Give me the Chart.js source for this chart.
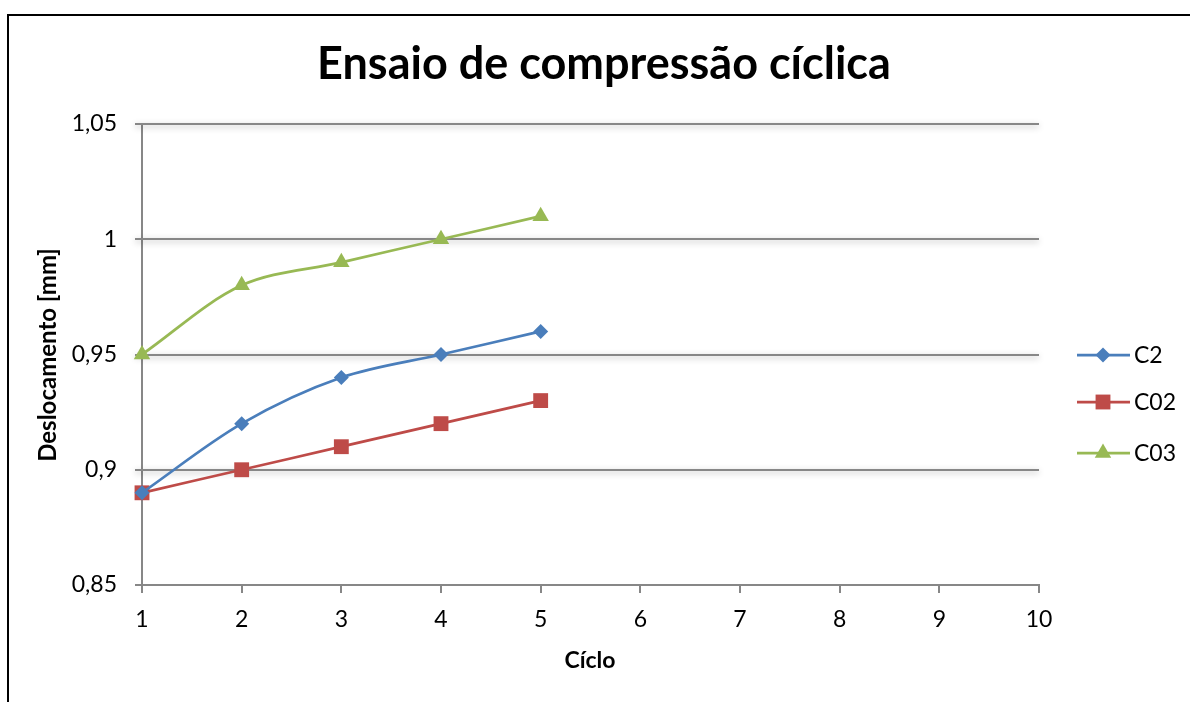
<!DOCTYPE html>
<html lang="pt">
<head>
<meta charset="utf-8">
<title>Ensaio de compressão cíclica</title>
<script src="https://cdn.jsdelivr.net/npm/chart.js@4.4.1/dist/chart.umd.min.js"></script>
<style>
  html, body { margin: 0; padding: 0; background: #fff; }
  #wrap { width: 1190px; height: 702px; }
</style>
</head>
<body>
<div id="wrap"><canvas id="c" width="1190" height="702"></canvas></div>
<script>
// Ciclos (eixo X) e deslocamentos medidos em mm
const cycles = [1, 2, 3, 4, 5];
const c2Values  = [0.89, 0.92, 0.94, 0.95, 0.96];
const c02Values = [0.89, 0.90, 0.91, 0.92, 0.93];
const c03Values = [0.95, 0.98, 0.99, 1.00, 1.01];
const seriesNames = ['C2', 'C02', 'C03'];
const yTickValues = [0.85, 0.9, 0.95, 1, 1.05];

const FONT = 'Lato, "Open Sans", sans-serif';
const GRID = '#878787';

function toPoints(vals) { return cycles.map((x, i) => ({ x: x, y: vals[i] })); }

// Moldura, título, títulos dos eixos, grelha com sombra e legenda
const decor = {
  id: 'decor',
  beforeDraw(chart) {
    const ctx = chart.ctx;
    ctx.save();
    ctx.fillStyle = '#fff';
    ctx.fillRect(0, 0, chart.width, chart.height);
    ctx.strokeStyle = '#000';
    ctx.lineWidth = 2;
    ctx.strokeRect(8, 15, chart.width + 20, chart.height + 20);
    ctx.restore();
  },
  beforeDatasetsDraw(chart) {
    const ctx = chart.ctx, y = chart.scales.y, a = chart.chartArea;
    ctx.save();
    ctx.strokeStyle = GRID;
    ctx.lineWidth = 2;
    ctx.shadowColor = 'rgba(0,0,0,0.30)';
    ctx.shadowBlur = 6;
    ctx.shadowOffsetY = 2;
    yTickValues.forEach(v => {
      if (v === y.min) return;
      const py = Math.round(y.getPixelForValue(v));
      ctx.beginPath();
      ctx.moveTo(a.left - 7, py);
      ctx.lineTo(a.right, py);
      ctx.stroke();
    });
    ctx.restore();
  },
  afterDraw(chart) {
    const ctx = chart.ctx;
    ctx.save();
    ctx.fillStyle = '#000';
    ctx.textAlign = 'center';
    ctx.textBaseline = 'middle';
    ctx.font = 'bold 45px ' + FONT;
    ctx.fillText('Ensaio de compressão cíclica', 604, 64);
    ctx.font = 'bold 23px ' + FONT;
    ctx.fillText('Cíclo', 590, 661);
    ctx.font = 'bold 24px ' + FONT;
    ctx.translate(48, 355);
    ctx.rotate(-Math.PI / 2);
    ctx.fillText('Deslocamento [mm]', 0, 0);
    ctx.restore();

    // legenda
    const rows = [355, 402, 453];
    ctx.save();
    chart.data.datasets.forEach((ds, i) => {
      const yy = rows[i];
      ctx.strokeStyle = ds.borderColor;
      ctx.lineWidth = ds.borderWidth;
      ctx.beginPath();
      ctx.moveTo(1077, yy);
      ctx.lineTo(1130, yy);
      ctx.stroke();
      ctx.fillStyle = ds.backgroundColor;
      Chart.helpers.drawPoint(ctx, {
        pointStyle: ds.pointStyle,
        radius: ds.pointRadius,
        rotation: 0,
        borderWidth: 0
      }, 1103, yy);
      ctx.fillStyle = '#000';
      ctx.font = '23px ' + FONT;
      ctx.textAlign = 'left';
      ctx.textBaseline = 'middle';
      ctx.fillText(ds.label, 1134, yy + 1);
    });
    ctx.restore();
  }
};

const mk = (label, vals, color, style, r) => ({
  label: label,
  data: toPoints(vals),
  borderColor: color,
  backgroundColor: color,
  borderWidth: 2.75,
  pointStyle: style,
  pointRadius: r,
  pointHoverRadius: r,
  pointBorderWidth: 0,
  tension: 0.33,
  clip: false
});

new Chart(document.getElementById('c'), {
  type: 'line',
  data: {
    datasets: [
      mk(seriesNames[0], c2Values, '#4A7EBB', 'rectRot', 7.5),
      mk(seriesNames[1], c02Values, '#BE4B48', 'rect', 10.5),
      mk(seriesNames[2], c03Values, '#98B954', 'triangle', 9.5)
    ]
  },
  options: {
    responsive: false,
    animation: false,
    events: [],
    layout: { padding: { left: 0, top: 124, right: 151, bottom: 0 } },
    plugins: { legend: { display: false }, title: { display: false }, tooltip: { enabled: false } },
    scales: {
      x: {
        type: 'linear',
        min: 1, max: 10,
        afterFit(s) { s.height = 117; },
        ticks: {
          stepSize: 1,
          color: '#000',
          font: { family: FONT, size: 23 },
          padding: 13,
          maxRotation: 0
        },
        grid: { drawOnChartArea: false, drawTicks: true, tickLength: 8, color: GRID, lineWidth: 2 },
        border: { color: GRID, width: 2 }
      },
      y: {
        min: 0.85, max: 1.05,
        afterFit(s) { s.width = 142; },
        afterBuildTicks(s) { s.ticks = yTickValues.map(v => ({ value: v })); },
        ticks: {
          color: '#000',
          font: { family: FONT, size: 23 },
          padding: 18,
          callback: v => String(Math.round(v * 100) / 100).replace('.', ',')
        },
        grid: { drawOnChartArea: false, drawTicks: true, tickLength: 7, color: GRID, lineWidth: 2 },
        border: { color: GRID, width: 2 }
      }
    }
  },
  plugins: [decor]
});
</script>
</body>
</html>
